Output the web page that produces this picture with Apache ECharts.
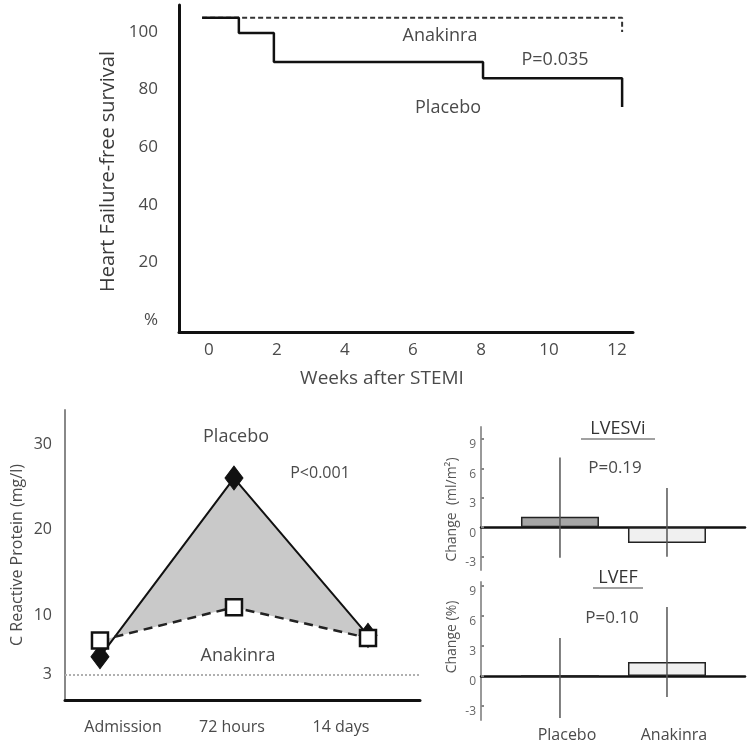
<!DOCTYPE html>
<html><head><meta charset="utf-8">
<script src="https://cdn.jsdelivr.net/npm/echarts@6/dist/echarts.min.js"></script>
<style>html,body{margin:0;padding:0;background:#fff}#c{width:750px;height:748px}</style>
</head><body><div id="c"></div>
<script>
// ---- Top panel: heart-failure-free survival (Kaplan-Meier) ----
const kmXTicks = [0, 2, 4, 6, 8, 10, 12];
const kmYTicks = [0, 20, 40, 60, 80, 100];
const placeboWeeks = [-0.2, 0.88, 1.91, 8.06, 12.15];
const placeboSurv = [105, 99.7, 89.6, 84, 74];
const anakinraWeeks = [-0.2, 12.15];
const anakinraSurv = [105, 100];

// ---- Bottom-left: C reactive protein ----
const crpCategories = ['Admission', '72 hours', '14 days'];
const crpPlacebo = [5.1, 26.1, 7.6];
const crpAnakinra = [7.0, 10.9, 7.3];
const crpYTicks = [3, 10, 20, 30];
const crpRef = 3;

// ---- Bottom-right: LVESVi / LVEF change ----
const lvCategories = ['Placebo', 'Anakinra'];
const lvTicks = [-3, 0, 3, 6, 9];
const lvesviMean = [1.07, -1.6];
const lvesviLow = [-3.1, -3.0];
const lvesviHigh = [7.1, 4.0];
const lvefMean = [0, 1.4];
const lvefLow = [-4.2, -2.1];
const lvefHigh = [3.8, 6.9];

const FONT = "'Open Sans', sans-serif";
const TXT = '#4a4a4a';
const barFill = ['#a6a6a6', '#f0f0f0'];

const chart = echarts.init(document.getElementById('c'), null, {renderer: 'canvas'});

function errSeries(lo, hi, idx) {
  return {
    type: 'custom', xAxisIndex: idx, yAxisIndex: idx, z: 5,
    data: lvCategories.map((c, i) => [i + 1, lo[i], hi[i]]),
    encode: {x: 0, y: [1, 2]},
    renderItem: function (params, api) {
      const a = api.coord([api.value(0), api.value(1)]);
      const b = api.coord([api.value(0), api.value(2)]);
      return {type: 'line', shape: {x1: a[0], y1: a[1], x2: b[0], y2: b[1]},
              style: {stroke: '#555', lineWidth: 1.5}};
    }
  };
}
function barSeries(vals, idx) {
  return {
    type: 'bar', xAxisIndex: idx, yAxisIndex: idx, barWidth: 78, z: 3,
    data: lvCategories.map((c, i) => ({value: [i + 1, vals[i]], itemStyle: {color: barFill[i]}})),
    itemStyle: {borderColor: '#222', borderWidth: 1.5}
  };
}
function lvYAxis(idx, min, max, name, pad) {
  return {
    gridIndex: idx, type: 'value', min: min, max: max,
    axisLine: {show: true, onZero: false, lineStyle: {color: '#999', width: 2}},
    axisTick: {show: true, inside: true, length: 3, customValues: lvTicks, lineStyle: {color: '#888', width: 2}},
    splitLine: {show: false},
    axisLabel: {customValues: lvTicks, verticalAlign: 'top', fontSize: 12, color: '#666', margin: 5, fontFamily: FONT},
    name: name, nameLocation: 'middle', nameGap: 22,
    nameTextStyle: {fontSize: 14, color: '#555', fontFamily: FONT, padding: pad}
  };
}
function lvXAxis(idx, showLabels) {
  return {
    gridIndex: idx, type: 'value', min: 0.262, max: 2.729,
    axisLine: {show: true, onZero: true, lineStyle: {color: '#111', width: 2.5}},
    axisTick: {show: false}, splitLine: {show: false},
    axisLabel: showLabels ? {customValues: [1, 2], formatter: v => lvCategories[Math.round(v) - 1],
      margin: 7, fontSize: 16, color: TXT, fontFamily: FONT, padding: [0, 0, 0, 14]} : {show: false}
  };
}

const G = {outerBoundsMode: 'none', containLabel: false};
const option = {
  backgroundColor: '#fff',
  animation: false,
  grid: [
    Object.assign({left: 179, top: 5, right: 117, bottom: 416}, G),
    Object.assign({left: 65, top: 410, right: 330, bottom: 48}, G),
    Object.assign({left: 68.5, width: 327, top: 410, bottom: 48}, G),
    Object.assign({left: 481, right: 5, top: 427, bottom: 178}, G),
    Object.assign({left: 481, right: 5, top: 582, bottom: 28}, G)
  ],
  xAxis: [
    {gridIndex: 0, type: 'value', min: -0.88, max: 12.47,
     axisLine: {show: true, onZero: false, lineStyle: {color: '#111', width: 3}},
     axisTick: {show: false}, splitLine: {show: false},
     axisLabel: {customValues: kmXTicks, fontSize: 17, color: TXT, margin: 10, fontFamily: FONT},
     name: 'Weeks after STEMI', nameLocation: 'middle', nameGap: 37,
     nameTextStyle: {fontSize: 19, color: TXT, fontFamily: FONT, padding: [0, 48, 0, 0]}},
    {gridIndex: 1, type: 'value', min: -0.261, max: 2.388,
     axisLine: {show: true, onZero: false, lineStyle: {color: '#111', width: 3}},
     axisTick: {show: false}, splitLine: {show: false}, axisLabel: {show: false}},
    {gridIndex: 2, type: 'category', data: crpCategories,
     axisLine: {show: false}, axisTick: {show: false},
     axisLabel: {fontSize: 16, color: TXT, margin: 19, fontFamily: FONT}},
    lvXAxis(3, false),
    lvXAxis(4, true)
  ],
  yAxis: [
    {gridIndex: 0, type: 'value', min: -4.17, max: 109.4,
     axisLine: {show: true, onZero: false, lineStyle: {color: '#111', width: 3}},
     axisTick: {show: false}, splitLine: {show: false},
     axisLabel: {customValues: kmYTicks, formatter: v => (v === 0 ? '%' : String(v)),
       fontSize: 17, color: TXT, margin: 21, fontFamily: FONT},
     name: 'Heart Failure-free survival', nameLocation: 'middle', nameGap: 61,
     nameTextStyle: {fontSize: 20, color: '#3a3a3a', fontFamily: FONT, padding: [0, 6, 0, 0]}},
    {gridIndex: 1, type: 'value', min: 0, max: 34.1,
     axisLine: {show: true, onZero: false, lineStyle: {color: '#888', width: 2}},
     axisTick: {show: false}, splitLine: {show: false},
     axisLabel: {customValues: crpYTicks, fontSize: 16, color: TXT, margin: 13, fontFamily: FONT},
     name: 'C Reactive Protein (mg/l)', nameLocation: 'middle', nameGap: 40,
     nameTextStyle: {fontSize: 16, color: TXT, fontFamily: FONT}},
    {gridIndex: 2, type: 'value', show: false, min: 0, max: 1},
    lvYAxis(3, -4.35, 10.2, 'Change  (ml/m²)', [0, 22, 0, 0]),
    lvYAxis(4, -4.4, 9.4, 'Change (%)', [0, 0, 0, 28])
  ],
  series: [
    {type: 'line', xAxisIndex: 0, yAxisIndex: 0, step: 'end', symbol: 'none',
     data: anakinraWeeks.map((w, i) => [w, anakinraSurv[i]]),
     lineStyle: {color: '#333', width: 2, type: [5, 3]}, z: 3},
    {type: 'line', xAxisIndex: 0, yAxisIndex: 0, step: 'end', symbol: 'none',
     data: placeboWeeks.map((w, i) => [w, placeboSurv[i]]),
     lineStyle: {color: '#111', width: 2.5}, z: 4},
    {type: 'custom', xAxisIndex: 1, yAxisIndex: 1, z: 1,
     data: [[0, 0]], encode: {x: 0, y: 1},
     renderItem: function (params, api) {
       const top = crpPlacebo.map((v, i) => api.coord([i, v]));
       const bot = crpAnakinra.map((v, i) => api.coord([i, v])).reverse();
       return {type: 'polygon', shape: {points: top.concat(bot)}, style: {fill: '#c9c9c9'}};
     }},
    {type: 'line', xAxisIndex: 1, yAxisIndex: 1, z: 3,
     data: crpPlacebo.map((v, i) => [i, v]),
     lineStyle: {color: '#111', width: 2},
     symbol: 'diamond', symbolSize: [18, 24], itemStyle: {color: '#111', borderColor: '#111'}},
    {type: 'line', xAxisIndex: 1, yAxisIndex: 1, z: 4,
     data: crpAnakinra.map((v, i) => [i, v]),
     lineStyle: {color: '#222', width: 2.5, type: [9, 6]},
     symbol: 'rect', symbolSize: 16, itemStyle: {color: '#fff', borderColor: '#111', borderWidth: 2.5},
     markLine: {silent: true, symbol: 'none', label: {show: false},
       lineStyle: {color: '#b0b0b0', width: 2, type: 'dotted'}, data: [{yAxis: crpRef}]}},
    barSeries(lvesviMean, 3),
    errSeries(lvesviLow, lvesviHigh, 3),
    barSeries(lvefMean, 4),
    errSeries(lvefLow, lvefHigh, 4)
  ],
  graphic: [
    {type: 'text', x: 440, y: 36, style: {text: 'Anakinra', font: '18px ' + FONT, fill: TXT, align: 'center', verticalAlign: 'middle'}},
    {type: 'text', x: 555, y: 60, style: {text: 'P=0.035', font: '18px ' + FONT, fill: TXT, align: 'center', verticalAlign: 'middle'}},
    {type: 'text', x: 448, y: 108, style: {text: 'Placebo', font: '18px ' + FONT, fill: TXT, align: 'center', verticalAlign: 'middle'}},
    {type: 'text', x: 236, y: 437, style: {text: 'Placebo', font: '18px ' + FONT, fill: TXT, align: 'center', verticalAlign: 'middle'}},
    {type: 'text', x: 320, y: 473, style: {text: 'P<0.001', font: '16px ' + FONT, fill: TXT, align: 'center', verticalAlign: 'middle'}},
    {type: 'text', x: 238, y: 656, style: {text: 'Anakinra', font: '18px ' + FONT, fill: TXT, align: 'center', verticalAlign: 'middle'}},
    {type: 'text', x: 618, y: 429, style: {text: 'LVESVi', font: '18px ' + FONT, fill: '#333', align: 'center', verticalAlign: 'middle'}},
    {type: 'line', shape: {x1: 581, y1: 439, x2: 655, y2: 439}, style: {stroke: '#444', lineWidth: 1.2}},
    {type: 'text', x: 615, y: 468, style: {text: 'P=0.19', font: '17px ' + FONT, fill: TXT, align: 'center', verticalAlign: 'middle'}},
    {type: 'text', x: 618, y: 578, style: {text: 'LVEF', font: '18px ' + FONT, fill: '#333', align: 'center', verticalAlign: 'middle'}},
    {type: 'line', shape: {x1: 593, y1: 588, x2: 643, y2: 588}, style: {stroke: '#444', lineWidth: 1.2}},
    {type: 'text', x: 612, y: 618, style: {text: 'P=0.10', font: '17px ' + FONT, fill: TXT, align: 'center', verticalAlign: 'middle'}}
  ]
};
chart.setOption(option);
</script>
</body></html>
